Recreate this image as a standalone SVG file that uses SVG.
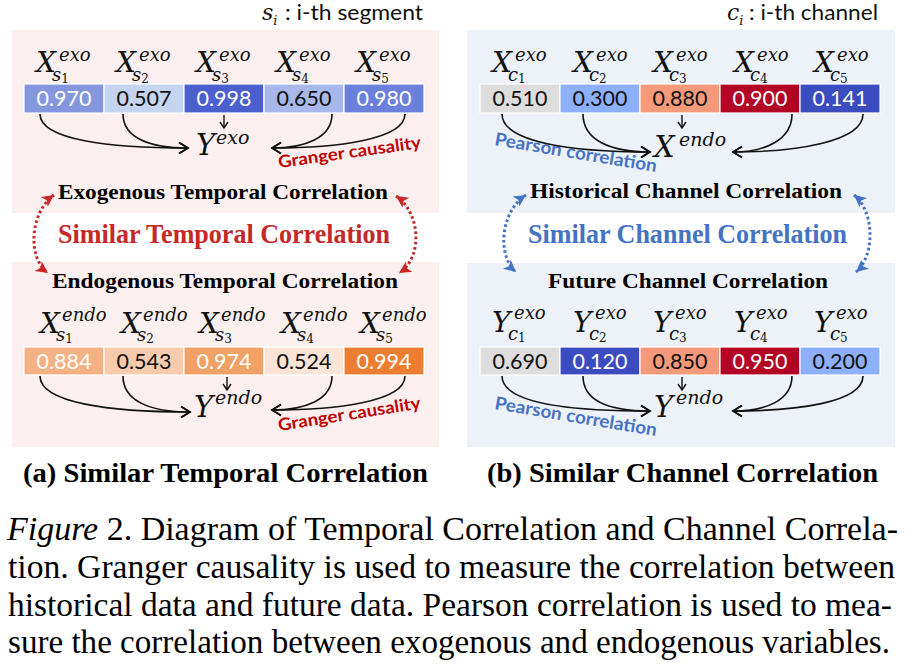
<svg xmlns="http://www.w3.org/2000/svg" width="910" height="666" viewBox="0 0 910 666">
<style>
.pink{fill:#fbf0ef}
.blue{fill:#edf2f9}
.cell{stroke:#ffffff;stroke-width:1.2}
.val{font-family:Lato,"Liberation Sans",sans-serif;font-size:21.5px;text-anchor:middle}
.w{fill:#ffffff}
.k{fill:#111111}
.mv{font-family:"DejaVu Serif",serif;font-style:italic;font-size:28px;fill:#111}
.ms{font-family:"DejaVu Serif",serif;font-style:italic;font-size:18px}
.mb{font-family:"DejaVu Serif",serif;font-style:italic;font-size:29px;fill:#111}
.mbs{font-family:"DejaVu Serif",serif;font-style:italic;font-size:19px}
.md{font-family:"DejaVu Serif",serif;font-style:normal;font-size:12px}
.hd{font-family:"Liberation Serif","Times New Roman",serif;font-weight:bold;font-size:22px;fill:#000}
.big{font-family:"Liberation Serif","Times New Roman",serif;font-weight:bold;font-size:28px}
.cap{font-family:"Liberation Serif","Times New Roman",serif;font-weight:bold;font-size:28px;fill:#000}
.fig{font-family:"Liberation Serif","Times New Roman",serif;font-weight:normal;font-size:33px;fill:#000}
.note{font-family:Lato,"Liberation Sans",sans-serif;font-size:21px;fill:#111}
.gr{font-family:Lato,"Liberation Sans",sans-serif;font-weight:bold;font-size:17px;fill:#c00000}
.pe{font-family:Lato,"Liberation Sans",sans-serif;font-weight:bold;font-size:18px;fill:#4472c4}
.arr{fill:none;stroke:#111;stroke-width:1.6;marker-end:url(#open)}
.sarr{fill:none;stroke:#111;stroke-width:1.4;marker-end:url(#small)}
.dr{fill:none;stroke:#c62828;stroke-width:3;stroke-dasharray:2.6 2.6;marker-start:url(#redh);marker-end:url(#redh)}
.db{fill:none;stroke:#4472c4;stroke-width:3;stroke-dasharray:2.6 2.6;marker-start:url(#blueh);marker-end:url(#blueh)}
</style>
<defs>
<marker id="open" markerUnits="userSpaceOnUse" markerWidth="14" markerHeight="14" viewBox="0 0 14 14" refX="11" refY="7" orient="auto">
<path d="M2,1.5 L11,7 L2,12.5" fill="none" stroke="#111" stroke-width="1.6"/>
</marker>
<marker id="small" markerUnits="userSpaceOnUse" markerWidth="10" markerHeight="10" viewBox="0 0 10 10" refX="8" refY="5" orient="auto">
<path d="M2,1 L8,5 L2,9" fill="none" stroke="#111" stroke-width="1.4"/>
</marker>
<marker id="redh" markerUnits="userSpaceOnUse" markerWidth="16" markerHeight="16" viewBox="0 0 16 16" refX="13" refY="8" orient="auto-start-reverse">
<path d="M1,2 L13,8 L1,14 L4,8 z" fill="#c62828"/>
</marker>
<marker id="blueh" markerUnits="userSpaceOnUse" markerWidth="16" markerHeight="16" viewBox="0 0 16 16" refX="13" refY="8" orient="auto-start-reverse">
<path d="M1,2 L13,8 L1,14 L4,8 z" fill="#4472c4"/>
</marker>
</defs>

<rect width="910" height="666" fill="#ffffff"/>

<g id="panels">
<rect class="pink" x="12" y="30" width="427" height="183"/>
<rect class="pink" x="12" y="262" width="427" height="185"/>
<rect class="blue" x="467" y="30" width="428" height="183"/>
<rect class="blue" x="467" y="263" width="428" height="184"/>
</g>

<g id="legend-s">
<text class="note" x="262" y="20"><tspan class="ms" style="font-size:22px">s</tspan><tspan class="ms" style="font-size:13px" y="25">i</tspan><tspan x="285" y="20" textLength="138" lengthAdjust="spacingAndGlyphs">: i-th segment</tspan></text>
</g>
<g id="legend-c">
<text class="note" x="727" y="20"><tspan class="ms" style="font-size:22px">c</tspan><tspan class="ms" style="font-size:13px" y="25">i</tspan><tspan x="749" y="20" textLength="129" lengthAdjust="spacingAndGlyphs">: i-th channel</tspan></text>
</g>

<!-- Left top: exogenous temporal -->
<g id="exo-s1"><rect class="cell" x="24" y="84" width="80" height="29" fill="#8497de"/><text class="val w" x="64" y="106">0.970</text>
<text class="mv" x="36" y="72">X<tspan class="ms" x="59" y="61">exo</tspan><tspan class="ms" x="52" y="81">s</tspan><tspan class="md" y="83">1</tspan></text></g>
<g id="exo-s2"><rect class="cell" x="104" y="84" width="80" height="29" fill="#c5d4f0"/><text class="val k" x="144" y="106">0.507</text>
<text class="mv" x="116" y="72">X<tspan class="ms" x="139" y="61">exo</tspan><tspan class="ms" x="132" y="81">s</tspan><tspan class="md" y="83">2</tspan></text></g>
<g id="exo-s3"><rect class="cell" x="184" y="84" width="80" height="29" fill="#4b5fcf"/><text class="val w" x="224" y="106">0.998</text>
<text class="mv" x="196" y="72">X<tspan class="ms" x="219" y="61">exo</tspan><tspan class="ms" x="212" y="81">s</tspan><tspan class="md" y="83">3</tspan></text></g>
<g id="exo-s4"><rect class="cell" x="264" y="84" width="80" height="29" fill="#a9b8ea"/><text class="val k" x="304" y="106">0.650</text>
<text class="mv" x="276" y="72">X<tspan class="ms" x="299" y="61">exo</tspan><tspan class="ms" x="292" y="81">s</tspan><tspan class="md" y="83">4</tspan></text></g>
<g id="exo-s5"><rect class="cell" x="344" y="84" width="80" height="29" fill="#6b80da"/><text class="val w" x="384" y="106">0.980</text>
<text class="mv" x="356" y="72">X<tspan class="ms" x="379" y="61">exo</tspan><tspan class="ms" x="372" y="81">s</tspan><tspan class="md" y="83">5</tspan></text></g>
<g id="y-exo"><text class="mb" x="196" y="155">Y<tspan class="mbs" x="216" y="144">exo</tspan></text></g>
<g id="granger-top"><text class="gr" transform="translate(279,168) rotate(-8)" textLength="144" lengthAdjust="spacingAndGlyphs">Granger causality</text></g>
<g id="title-exo"><text class="hd" x="58" y="199" textLength="330" lengthAdjust="spacingAndGlyphs">Exogenous Temporal Correlation</text></g>

<!-- Left bottom: endogenous temporal -->
<g id="title-sim-t"><text class="big" x="58" y="243" fill="#c62828" textLength="332" lengthAdjust="spacingAndGlyphs">Similar Temporal Correlation</text></g>
<g id="title-endo"><text class="hd" x="52" y="288" textLength="346" lengthAdjust="spacingAndGlyphs">Endogenous Temporal Correlation</text></g>
<g id="endo-s1"><rect class="cell" x="24" y="347" width="80" height="28" fill="#f4b183"/><text class="val w" x="64" y="369">0.884</text>
<text class="mv" x="40" y="333">X<tspan class="ms" x="62" y="321">endo</tspan><tspan class="ms" x="56" y="341">s</tspan><tspan class="md" y="343">1</tspan></text></g>
<g id="endo-s2"><rect class="cell" x="104" y="347" width="80" height="28" fill="#f8cbad"/><text class="val k" x="144" y="369">0.543</text>
<text class="mv" x="121" y="333">X<tspan class="ms" x="143" y="321">endo</tspan><tspan class="ms" x="137" y="341">s</tspan><tspan class="md" y="343">2</tspan></text></g>
<g id="endo-s3"><rect class="cell" x="184" y="347" width="80" height="28" fill="#f1a165"/><text class="val w" x="224" y="369">0.974</text>
<text class="mv" x="199" y="333">X<tspan class="ms" x="221" y="321">endo</tspan><tspan class="ms" x="215" y="341">s</tspan><tspan class="md" y="343">3</tspan></text></g>
<g id="endo-s4"><rect class="cell" x="264" y="347" width="80" height="28" fill="#fce4d6"/><text class="val k" x="304" y="369">0.524</text>
<text class="mv" x="281" y="333">X<tspan class="ms" x="303" y="321">endo</tspan><tspan class="ms" x="297" y="341">s</tspan><tspan class="md" y="343">4</tspan></text></g>
<g id="endo-s5"><rect class="cell" x="344" y="347" width="80" height="28" fill="#ed7d31"/><text class="val w" x="384" y="369">0.994</text>
<text class="mv" x="360" y="333">X<tspan class="ms" x="382" y="321">endo</tspan><tspan class="ms" x="376" y="341">s</tspan><tspan class="md" y="343">5</tspan></text></g>
<g id="y-endo-t"><text class="mb" x="194" y="417">Y<tspan class="mbs" x="215" y="404">endo</tspan></text></g>
<g id="granger-bot"><text class="gr" transform="translate(279,431) rotate(-9)" textLength="144" lengthAdjust="spacingAndGlyphs">Granger causality</text></g>

<!-- Right top: historical channel -->
<g id="hist-c1"><rect class="cell" x="480" y="84" width="80" height="29" fill="#dddddd"/><text class="val k" x="520" y="106">0.510</text>
<text class="mv" x="492" y="72">X<tspan class="ms" x="515" y="61">exo</tspan><tspan class="ms" x="508" y="81">c</tspan><tspan class="md" y="83">1</tspan></text></g>
<g id="hist-c2"><rect class="cell" x="560" y="84" width="80" height="29" fill="#8db0fe"/><text class="val k" x="600" y="106">0.300</text>
<text class="mv" x="573" y="72">X<tspan class="ms" x="596" y="61">exo</tspan><tspan class="ms" x="589" y="81">c</tspan><tspan class="md" y="83">2</tspan></text></g>
<g id="hist-c3"><rect class="cell" x="640" y="84" width="80" height="29" fill="#f49a7b"/><text class="val k" x="680" y="106">0.880</text>
<text class="mv" x="653" y="72">X<tspan class="ms" x="676" y="61">exo</tspan><tspan class="ms" x="669" y="81">c</tspan><tspan class="md" y="83">3</tspan></text></g>
<g id="hist-c4"><rect class="cell" x="720" y="84" width="80" height="29" fill="#b40426"/><text class="val w" x="760" y="106">0.900</text>
<text class="mv" x="734" y="72">X<tspan class="ms" x="757" y="61">exo</tspan><tspan class="ms" x="750" y="81">c</tspan><tspan class="md" y="83">4</tspan></text></g>
<g id="hist-c5"><rect class="cell" x="800" y="84" width="80" height="29" fill="#3b4cc0"/><text class="val w" x="840" y="106">0.141</text>
<text class="mv" x="814" y="72">X<tspan class="ms" x="837" y="61">exo</tspan><tspan class="ms" x="830" y="81">c</tspan><tspan class="md" y="83">5</tspan></text></g>
<g id="x-endo"><text class="mb" x="654" y="157">X<tspan class="mbs" x="679" y="146">endo</tspan></text></g>
<g id="pearson-top"><text class="pe" transform="translate(494,145) rotate(9.5)" textLength="164" lengthAdjust="spacingAndGlyphs">Pearson correlation</text></g>
<g id="title-hist"><text class="hd" x="530" y="198" textLength="312" lengthAdjust="spacingAndGlyphs">Historical Channel Correlation</text></g>

<!-- Right bottom: future channel -->
<g id="title-sim-c"><text class="big" x="528" y="243" fill="#4472c4" textLength="319" lengthAdjust="spacingAndGlyphs">Similar Channel Correlation</text></g>
<g id="title-fut"><text class="hd" x="548" y="288" textLength="280" lengthAdjust="spacingAndGlyphs">Future Channel Correlation</text></g>
<g id="fut-c1"><rect class="cell" x="480" y="347" width="80" height="28" fill="#dddddd"/><text class="val k" x="520" y="369">0.690</text>
<text class="mv" x="492" y="332">Y<tspan class="ms" x="514" y="319">exo</tspan><tspan class="ms" x="508" y="340">c</tspan><tspan class="md" y="342">1</tspan></text></g>
<g id="fut-c2"><rect class="cell" x="560" y="347" width="80" height="28" fill="#3b4cc0"/><text class="val w" x="600" y="369">0.120</text>
<text class="mv" x="573" y="332">Y<tspan class="ms" x="595" y="319">exo</tspan><tspan class="ms" x="589" y="340">c</tspan><tspan class="md" y="342">2</tspan></text></g>
<g id="fut-c3"><rect class="cell" x="640" y="347" width="80" height="28" fill="#f49a7b"/><text class="val k" x="680" y="369">0.850</text>
<text class="mv" x="653" y="332">Y<tspan class="ms" x="675" y="319">exo</tspan><tspan class="ms" x="669" y="340">c</tspan><tspan class="md" y="342">3</tspan></text></g>
<g id="fut-c4"><rect class="cell" x="720" y="347" width="80" height="28" fill="#b40426"/><text class="val w" x="760" y="369">0.950</text>
<text class="mv" x="734" y="332">Y<tspan class="ms" x="756" y="319">exo</tspan><tspan class="ms" x="750" y="340">c</tspan><tspan class="md" y="342">4</tspan></text></g>
<g id="fut-c5"><rect class="cell" x="800" y="347" width="80" height="28" fill="#8db0fe"/><text class="val k" x="840" y="369">0.200</text>
<text class="mv" x="814" y="332">Y<tspan class="ms" x="836" y="319">exo</tspan><tspan class="ms" x="830" y="340">c</tspan><tspan class="md" y="342">5</tspan></text></g>
<g id="y-endo-c"><text class="mb" x="654" y="417">Y<tspan class="mbs" x="676" y="404">endo</tspan></text></g>
<g id="pearson-bot"><text class="pe" transform="translate(494,409) rotate(9.5)" textLength="164" lengthAdjust="spacingAndGlyphs">Pearson correlation</text></g>

<g id="connectors">
<path class="arr" d="M40,114 C40,140 110,148 188,148"/>
<path class="arr" d="M123,114 C123,138 150,148 188,148"/>
<path class="sarr" d="M224,115 L224,128"/>
<path class="arr" d="M332,114 C332,138 305,148 272,148"/>
<path class="arr" d="M405,114 C405,140 335,148 272,148"/>

<path class="arr" d="M40,376 C40,403 110,412 190,412"/>
<path class="arr" d="M123,376 C123,401 150,412 190,412"/>
<path class="sarr" d="M227,377 L227,390"/>
<path class="arr" d="M332,376 C332,400 305,410 272,410"/>
<path class="arr" d="M405,376 C405,402 335,410 272,410"/>

<path class="arr" d="M502,114 C502,142 570,152 650,152"/>
<path class="arr" d="M583,114 C583,140 610,152 650,152"/>
<path class="sarr" d="M682,115 L682,128"/>
<path class="arr" d="M792,114 C792,140 765,152 733,152"/>
<path class="arr" d="M863,114 C863,142 795,152 733,152"/>

<path class="arr" d="M502,376 C502,403 570,411 650,411"/>
<path class="arr" d="M583,376 C583,401 610,411 650,411"/>
<path class="sarr" d="M682,377 L682,390"/>
<path class="arr" d="M792,376 C792,401 765,411 733,411"/>
<path class="arr" d="M863,376 C863,403 795,411 733,411"/>

<path class="dr" d="M54,195 C30,212 27,258 48,273"/>
<path class="dr" d="M396,196 C421,213 423,258 399,273"/>
<path class="db" d="M526,195 C500,212 497,256 516,272"/>
<path class="db" d="M854,195 C875,212 875,256 856,272"/>
</g>

<g id="captions">
<text class="cap" x="23" y="482" textLength="405" lengthAdjust="spacingAndGlyphs">(a) Similar Temporal Correlation</text>
<text class="cap" x="487" y="482" textLength="391" lengthAdjust="spacingAndGlyphs">(b) Similar Channel Correlation</text>
<text class="fig" x="7" y="540" textLength="891" lengthAdjust="spacingAndGlyphs"><tspan font-style="italic">Figure</tspan> 2. Diagram of Temporal Correlation and Channel Correla-</text>
<text class="fig" x="8" y="578" textLength="887" lengthAdjust="spacingAndGlyphs">tion. Granger causality is used to measure the correlation between</text>
<text class="fig" x="8" y="616" textLength="884" lengthAdjust="spacingAndGlyphs">historical data and future data. Pearson correlation is used to mea-</text>
<text class="fig" x="8" y="653" textLength="882" lengthAdjust="spacingAndGlyphs">sure the correlation between exogenous and endogenous variables.</text>
</g>
</svg>
